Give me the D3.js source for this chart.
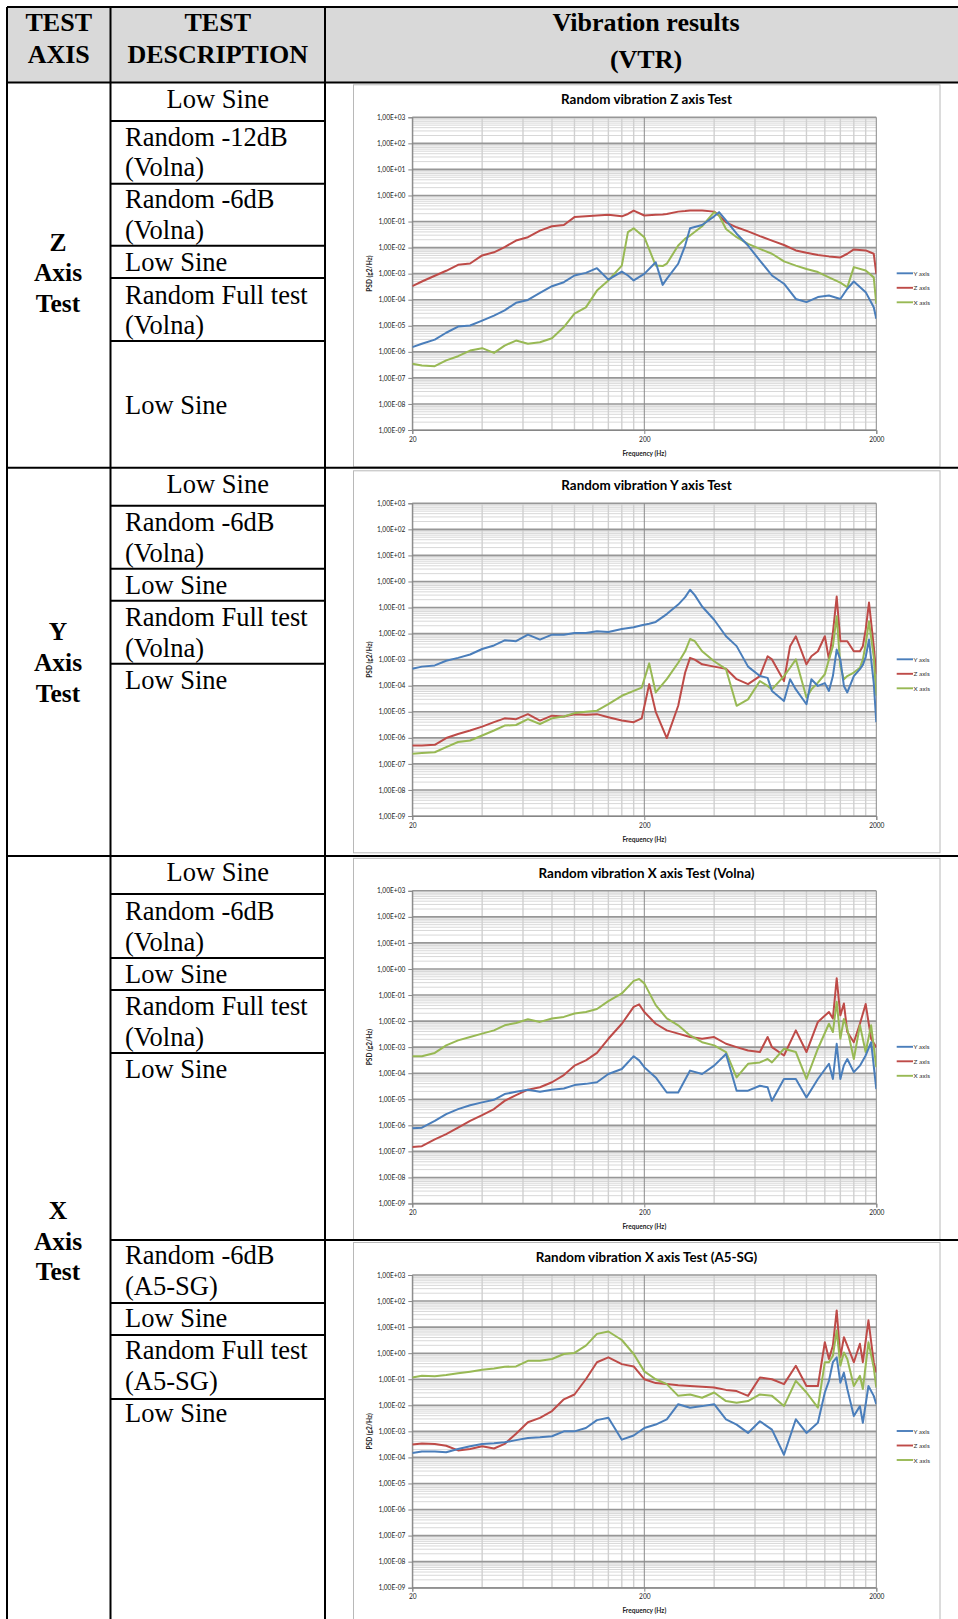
<!DOCTYPE html>
<html>
<head>
<meta charset="utf-8">
<script src="https://cdn.jsdelivr.net/npm/d3@7"></script>
<style>
  html, body { margin: 0; padding: 0; background: #fff; }
  svg { display: block; }
</style>
</head>
<body>
<svg id="page" width="958" height="1619"></svg>
<script>
// ---------- chart data: PSD (g2/Hz) against frequency (Hz) ----------
const seriesNames = ["Y axis", "Z axis", "X axis"];
const psdTickLabels = ["1,00E+03","1,00E+02","1,00E+01","1,00E+00","1,00E-01","1,00E-02",
  "1,00E-03","1,00E-04","1,00E-05","1,00E-06","1,00E-07","1,00E-08","1,00E-09"];
const psdDecades = [1e3,1e2,1e1,1e0,1e-1,1e-2,1e-3,1e-4,1e-5,1e-6,1e-7,1e-8,1e-9];
const freqTicks = [20, 200, 2000];

// Z axis test
const freqZ = [20,22,25,28,31.5,35.5,40,45,50,56,63,71,80,90,100,112,125,140,160,170,
  180,200,224,240,250,280,300,315,355,400,420,450,500,560,630,710,800,900,1000,1120,
  1250,1400,1500,1600,1800,1950,2000];
const zRunY = [1.51e-6,2.04e-6,2.95e-6,5.4e-6,9.3e-6,1.02e-5,1.58e-5,2.45e-5,3.9e-5,7.6e-5,
  9.8e-5,1.82e-4,3.3e-4,4.7e-4,8.5e-4,1.07e-3,1.62e-3,5.9e-4,1.2e-3,8.5e-4,
  5.5e-4,9.8e-4,2.75e-3,3.7e-4,6.3e-4,2.4e-3,1.2e-2,5.5e-2,7.4e-2,0.158,
  0.229,0.11,3.4e-2,1.2e-2,3.16e-3,8.5e-4,4.1e-4,1.07e-4,8.1e-5,1.26e-4,
  1.45e-4,1.07e-4,2.63e-4,5.0e-4,1.95e-4,5.1e-5,1.86e-5];
const zRunZ = [3.3e-4,5.0e-4,8.3e-4,1.29e-3,2.19e-3,2.45e-3,5.0e-3,6.6e-3,1.05e-2,1.86e-2,
  2.5e-2,4.5e-2,6.6e-2,7.4e-2,0.148,0.158,0.17,0.182,0.158,0.195,
  0.263,0.17,0.182,0.186,0.195,0.24,0.251,0.263,0.263,0.24,
  0.17,9.3e-2,6.0e-2,4.2e-2,2.75e-2,1.86e-2,1.26e-2,7.8e-3,6.3e-3,5.2e-3,
  4.6e-3,4.2e-3,5.8e-3,8.5e-3,7.8e-3,5.8e-3,9.8e-4];
const zRunX = [3.5e-7,3.0e-7,2.8e-7,4.7e-7,6.8e-7,1.12e-6,1.38e-6,9.1e-7,1.74e-6,2.7e-6,
  2.04e-6,2.34e-6,3.3e-6,8.9e-6,2.9e-5,5.1e-5,2.24e-4,5.5e-4,2.04e-3,3.9e-2,
  5.5e-2,2.5e-2,2.04e-3,1.95e-3,2.4e-3,1.2e-2,2.2e-2,2.9e-2,6.6e-2,0.229,
  0.17,5.2e-2,2.5e-2,1.38e-2,8.9e-3,5.8e-3,2.95e-3,2.04e-3,1.51e-3,1.15e-3,
  7.2e-4,4.5e-4,3.0e-4,1.78e-3,1.32e-3,7.2e-4,6.9e-5];

// Y axis test
const freqY = [20,22,25,28,31.5,35.5,40,45,50,56,63,71,80,90,100,112,125,140,160,180,
  195,210,224,250,280,300,315,330,355,400,450,500,560,630,680,710,800,850,900,1000,
  1050,1120,1200,1250,1300,1350,1400,1450,1500,1600,1700,1750,1800,1860,1950,2000];
const yRunY = [4.5e-4,5.4e-4,6.0e-4,9.1e-4,1.17e-3,1.58e-3,2.57e-3,3.5e-3,5.5e-3,5.1e-3,
  9.1e-3,5.9e-3,9.1e-3,9.1e-3,1.05e-2,1.05e-2,1.23e-2,1.15e-2,1.51e-2,1.74e-2,
  2.1e-2,2.4e-2,2.8e-2,5.6e-2,0.13,0.25,0.48,0.30,0.11,3.4e-2,
  7.9e-3,3.3e-3,5.4e-4,2.34e-4,2.0e-4,6.3e-5,2.6e-5,1.78e-4,7.2e-5,1.95e-5,
  1.78e-4,9.8e-5,1.26e-4,6.3e-5,2.34e-4,2.45e-3,1.0e-3,9.8e-5,5.5e-5,2.34e-4,
  4.3e-4,6.3e-4,1.26e-3,5.9e-3,1.26e-4,4.0e-6];
const yRunZ = [5.1e-7,5.1e-7,5.4e-7,9.8e-7,1.41e-6,1.91e-6,2.7e-6,4.0e-6,5.6e-6,5.2e-6,
  8.1e-6,4.6e-6,7.1e-6,6.6e-6,8.1e-6,7.6e-6,8.1e-6,6.2e-6,4.6e-6,4.0e-6,
  5.6e-6,1.15e-4,1.0e-5,9.8e-7,1.7e-5,3.2e-4,1.17e-3,1.0e-3,6.6e-4,5.4e-4,
  4.5e-4,1.78e-4,1.15e-4,2.34e-4,1.35e-3,1.02e-3,1.51e-4,3.3e-3,7.9e-3,6.6e-4,
  1.35e-3,2.1e-3,7.9e-3,1.02e-3,1.07e-2,0.263,5.1e-3,5.1e-3,5.1e-3,2.1e-3,
  2.1e-3,3.3e-3,1.41e-2,0.155,3.3e-3,2.75e-4];
const yRunX = [2.45e-7,2.6e-7,2.8e-7,4.4e-7,6.9e-7,7.9e-7,1.23e-6,1.91e-6,2.95e-6,3.1e-6,
  5.2e-6,3.4e-6,5.6e-6,6.6e-6,8.9e-6,1.0e-5,1.1e-5,1.95e-5,4.1e-5,6.3e-5,
  8.5e-5,7.2e-4,5.5e-5,1.78e-4,7.6e-4,2.1e-3,6.2e-3,5.1e-3,2.1e-3,8.7e-4,
  4.3e-4,1.7e-5,3.0e-5,1.51e-4,9.8e-5,7.2e-5,2.34e-4,4.9e-4,1.02e-3,3.5e-5,
  7.2e-5,1.32e-4,2.75e-4,1.02e-3,3.3e-3,4.6e-2,5.6e-4,1.78e-4,2.34e-4,3.2e-4,
  4.9e-4,1.0e-3,4.0e-3,2.95e-2,1.26e-3,4.1e-5];

// X axis test (Volna)
const freqXV = [20,22,25,28,31.5,35.5,40,45,50,56,63,71,80,90,100,112,125,140,160,180,
  190,200,224,250,280,315,355,400,450,500,560,630,680,710,800,900,1000,1120,1250,1300,
  1350,1400,1450,1500,1600,1700,1800,1900,2000];
const xvRunY = [7.8e-7,8.1e-7,1.48e-6,2.7e-6,4.2e-6,5.9e-6,7.6e-6,9.5e-6,1.58e-5,1.95e-5,
  2.34e-5,1.95e-5,2.34e-5,2.6e-5,3.5e-5,3.9e-5,4.5e-5,9.3e-5,1.45e-4,4.5e-4,
  3.1e-4,1.7e-4,6.9e-5,1.82e-5,1.82e-5,1.26e-4,9.3e-5,1.95e-4,5.5e-4,2.14e-5,
  2.14e-5,3.3e-5,2.9e-5,8.7e-6,6.0e-5,6.0e-5,1.17e-5,6.0e-5,2.3e-4,6.0e-5,
  1.35e-3,6.0e-5,2.0e-4,3.5e-4,1.1e-4,1.95e-4,4.8e-4,1.55e-3,2.45e-5];
const xvRunZ = [1.48e-7,1.58e-7,2.9e-7,4.6e-7,8.1e-7,1.48e-6,2.45e-6,4.2e-6,8.7e-6,1.45e-5,
  2.34e-5,2.9e-5,4.5e-5,8.5e-5,1.95e-4,3.1e-4,6.0e-4,2.1e-3,7.9e-3,3.5e-2,
  4.4e-2,2.24e-2,7.9e-3,4.4e-3,3.3e-3,2.45e-3,2.1e-3,2.45e-3,1.35e-3,1.0e-3,
  7.4e-4,6.5e-4,2.45e-3,1.0e-3,4.8e-4,4.4e-3,6.5e-4,9.3e-3,2.24e-2,1.26e-2,
  0.44,1.66e-2,4.7e-2,3.8e-3,1.55e-3,7.9e-3,4.5e-2,2.1e-3,1.0e-3];
const xvRunX = [4.5e-4,4.5e-4,6.0e-4,1.17e-3,1.82e-3,2.45e-3,3.3e-3,4.4e-3,6.9e-3,8.5e-3,
  1.17e-2,9.3e-3,1.26e-2,1.45e-2,1.95e-2,2.24e-2,2.9e-2,5.8e-2,0.115,0.35,
  0.41,0.28,4.1e-2,1.26e-2,6.9e-3,2.8e-3,1.55e-3,1.17e-3,6.5e-4,6.9e-5,
  2.3e-4,2.6e-4,3.5e-4,2.6e-4,8.7e-4,6.5e-4,6.0e-5,8.7e-4,7.9e-3,3.8e-3,
  5.5e-2,2.1e-3,1.2e-2,5.0e-3,3.5e-4,6.9e-3,6.5e-4,6.9e-3,1.7e-4];

// X axis test (A5-SG)
const freqXA = [20,22,25,28,31.5,35.5,40,45,50,56,63,71,80,90,100,112,125,140,160,180,
  200,224,250,280,315,355,400,450,500,560,630,710,800,900,1000,1120,1200,1250,1300,1350,
  1400,1450,1500,1600,1700,1750,1850,1950,2000];
const xaRunY = [1.48e-4,1.7e-4,1.7e-4,1.58e-4,2.1e-4,2.7e-4,3.3e-4,3.5e-4,3.8e-4,4.6e-4,
  5.6e-4,5.9e-4,6.5e-4,1.0e-3,1.0e-3,1.35e-3,2.7e-3,3.3e-3,4.8e-4,6.9e-4,
  1.35e-3,1.82e-3,2.9e-3,1.1e-2,8.1e-3,9.3e-3,1.1e-2,2.9e-3,1.82e-3,8.7e-4,
  2.45e-3,1.17e-3,1.26e-4,2.9e-3,8.7e-4,2.14e-3,3.1e-2,8.7e-2,0.45,0.69,
  7.4e-2,0.18,4.2e-2,3.9e-3,9.3e-3,2.14e-3,5.5e-2,2.3e-2,1.1e-2];
const xaRunZ = [3.1e-4,3.4e-4,3.3e-4,2.8e-4,1.86e-4,2.1e-4,2.7e-4,2.2e-4,3.3e-4,8.1e-4,
  2.24e-3,3.3e-3,6.0e-3,1.7e-2,2.6e-2,0.10,0.45,0.69,0.38,0.31,
  0.10,7.1e-2,6.5e-2,5.9e-2,5.5e-2,5.2e-2,4.8e-2,3.9e-2,3.5e-2,2.3e-2,
  0.117,0.1,6.5e-2,0.33,5.5e-2,5.5e-2,2.63,0.6,1.95,43.7,
  0.69,4.1,1.95,0.45,2.29,0.45,18.2,0.45,0.18];
const xaRunX = [0.117,0.135,0.129,0.145,0.17,0.195,0.229,0.257,0.30,0.31,
  0.51,0.51,0.60,0.93,1.02,1.95,5.5,6.8,3.2,0.93,
  0.20,0.10,6.5e-2,2.3e-2,2.6e-2,1.95e-2,3.1e-2,1.45e-2,1.26e-2,1.45e-2,
  2.6e-2,2.3e-2,9.3e-3,8.7e-2,3.1e-2,8.1e-3,0.45,0.45,0.79,7.4,
  0.33,1.07,0.6,5.5e-2,0.135,4.2e-2,2.63,0.28,4.8e-2];

// ---------- table content ----------
const headerAxis = ["TEST", "AXIS"];
const headerDesc = ["TEST", "DESCRIPTION"];
const headerResult = ["Vibration results", "(VTR)"];
const axisNames = [["Z","Axis","Test"], ["Y","Axis","Test"], ["X","Axis","Test"]];
const descLines = [
  "Low Sine", "Random -12dB", "(Volna)", "Random -6dB", "(Volna)", "Low Sine",
  "Random Full test", "(Volna)", "Low Sine",
  "Low Sine", "Random -6dB", "(Volna)", "Low Sine", "Random Full test", "(Volna)", "Low Sine",
  "Low Sine", "Random -6dB", "(Volna)", "Low Sine", "Random Full test", "(Volna)", "Low Sine",
  "Random -6dB", "(A5-SG)", "Low Sine", "Random Full test", "(A5-SG)", "Low Sine"
];

// ---------- layout ----------
const W = 958, H = 1619;
const colX = [7, 110.5, 325];
const descLineY = [99, 137.3, 167.2, 199.2, 230.2, 262.2, 295.2, 325.2, 404.7,
  484, 522.4, 553.3, 585.3, 617.3, 648.3, 680.3,
  872, 910.5, 941.5, 973.5, 1005.5, 1036.5, 1068.5,
  1255.3, 1286.3, 1318.3, 1350.3, 1381.3, 1413.3];
const descCentered = [0, 9, 16];
const axisNameY = [[242.6, 272.5, 303.5], [631.8, 662.7, 693.7], [1210, 1241, 1271.8]];
const fullRules = [7, 82.6, 467.8, 856];
const wideRules = [1240];
const descRules = [121, 183.7, 245.7, 278, 341, 505.8, 568.8, 600.8, 663.8,
  894, 958, 990, 1053, 1303, 1335, 1399];

const serif = "'Liberation Serif','Times New Roman',serif";
const sans = "Lato,'Open Sans',sans-serif";
const colors = ["#4a7ebb", "#be4b48", "#98b954"];

const svg = d3.select("#page");
svg.append("rect").attr("width", W).attr("height", H).attr("fill", "#fff");

// header band
svg.append("rect").attr("x", colX[0]).attr("y", 7).attr("width", W - colX[0]).attr("height", 82.6 - 7)
  .attr("fill", "#d9d9d9");

function headerText(lines, cx, ys) {
  lines.forEach((t, i) => {
    svg.append("text").attr("x", cx).attr("y", ys[i]).attr("text-anchor", "middle")
      .attr("dominant-baseline", "central").attr("font-family", serif)
      .attr("font-weight", "bold").attr("font-size", 26).attr("fill", "#000").text(t);
  });
}
headerText(headerAxis, (colX[0] + colX[1]) / 2, [22.7, 54.7]);
headerText(headerDesc, (colX[1] + colX[2]) / 2, [22.7, 54.7]);
headerText(headerResult, 646, [22.7, 59.9]);

// axis name column
axisNames.forEach((lines, s) => {
  lines.forEach((t, i) => {
    svg.append("text").attr("x", 58).attr("y", axisNameY[s][i]).attr("text-anchor", "middle")
      .attr("dominant-baseline", "central").attr("font-family", serif)
      .attr("font-weight", "bold").attr("font-size", 25.5).attr("fill", "#000").text(t);
  });
});

// test description column
descLines.forEach((t, i) => {
  const centered = descCentered.includes(i);
  svg.append("text")
    .attr("x", centered ? (colX[1] + colX[2]) / 2 : 125)
    .attr("y", descLineY[i])
    .attr("text-anchor", centered ? "middle" : "start")
    .attr("dominant-baseline", "central")
    .attr("font-family", serif).attr("font-size", 26.5).attr("fill", "#000").text(t);
});

// ---------- charts ----------
const charts = [
  { title: "Random vibration Z axis Test", plotTop: 117.3, freq: freqZ, runs: [zRunY, zRunZ, zRunX] },
  { title: "Random vibration Y axis Test", plotTop: 503.3, freq: freqY, runs: [yRunY, yRunZ, yRunX] },
  { title: "Random vibration X axis Test (Volna)", plotTop: 890.8, freq: freqXV, runs: [xvRunY, xvRunZ, xvRunX] },
  { title: "Random vibration X axis Test (A5-SG)", plotTop: 1275, freq: freqXA, runs: [xaRunY, xaRunZ, xaRunX] }
];

const plotLeft = 412.3, plotRight = 876.3, plotH = 312.7;
const minorFreq = [40,60,80,100,120,140,160,180,400,600,800,1000,1200,1400,1600,1800];

charts.forEach((c, ci) => {
  const top = c.plotTop, bottom = top + plotH;
  const g = svg.append("g");
  const x = d3.scaleLog().domain([20, 2000]).range([plotLeft, plotRight]);
  const y = d3.scaleLog().domain([1e-9, 1e3]).range([bottom, top]);

  // chart area
  g.append("rect").attr("x", 353.5).attr("y", top - 32.5).attr("width", 586.5).attr("height", 382)
    .attr("fill", "#fff").attr("stroke", "#b8b8b8").attr("stroke-width", 1);

  g.append("text").attr("x", 646.5).attr("y", top - 18.3).attr("text-anchor", "middle")
    .attr("dominant-baseline", "central").attr("font-family", sans).attr("font-weight", "bold")
    .attr("font-size", 13.4).attr("fill", "#000").text(c.title);

  // minor gridlines
  const minorPsd = [];
  for (let e = -9; e < 3; e++) for (let k = 2; k <= 9; k++) minorPsd.push(k * Math.pow(10, e));
  g.selectAll(".hmin").data(minorPsd).enter().append("line")
    .attr("x1", plotLeft).attr("x2", plotRight)
    .attr("y1", d => y(d)).attr("y2", d => y(d))
    .attr("stroke", "#d4d4d4").attr("stroke-width", 0.9);
  g.selectAll(".vmin").data(minorFreq).enter().append("line")
    .attr("x1", d => x(d)).attr("x2", d => x(d))
    .attr("y1", top).attr("y2", bottom)
    .attr("stroke", "#d0d0d0").attr("stroke-width", 1.4);
  // major gridlines
  g.selectAll(".hmaj").data(psdDecades).enter().append("line")
    .attr("x1", plotLeft).attr("x2", plotRight)
    .attr("y1", d => y(d)).attr("y2", d => y(d))
    .attr("stroke", "#979797").attr("stroke-width", 1.6);
  g.selectAll(".vmaj").data(freqTicks).enter().append("line")
    .attr("x1", d => x(d)).attr("x2", d => x(d))
    .attr("y1", top).attr("y2", bottom)
    .attr("stroke", "#8a8a8a").attr("stroke-width", 1);

  // axes
  const yAxis = d3.axisLeft(y).tickValues(psdDecades).tickSize(4)
    .tickFormat((d, i) => psdTickLabels[i]);
  const ya = g.append("g").attr("transform", `translate(${plotLeft},0)`).call(yAxis);
  const xAxis = d3.axisBottom(x).tickValues(freqTicks).tickSize(4).tickFormat(d3.format("d"));
  const xa = g.append("g").attr("transform", `translate(0,${bottom})`).call(xAxis);
  [ya, xa].forEach(a => {
    a.select(".domain").attr("stroke", "#868686");
    a.selectAll(".tick line").attr("stroke", "#868686");
    a.selectAll("text").attr("font-family", sans).attr("font-size", 6.6).attr("fill", "#222");
  });
  ya.selectAll(".tick text").attr("x", -7);
  xa.selectAll(".tick text").attr("y", 7);

  g.append("text").attr("x", (plotLeft + plotRight) / 2).attr("y", bottom + 22.7)
    .attr("text-anchor", "middle").attr("dominant-baseline", "central")
    .attr("font-family", sans).attr("font-weight", "bold").attr("font-size", 6.6).attr("fill", "#222")
    .text("Frequency (Hz)");
  g.append("text").attr("transform", `translate(368.5,${(top + bottom) / 2}) rotate(-90)`)
    .attr("text-anchor", "middle").attr("dominant-baseline", "central")
    .attr("font-family", sans).attr("font-weight", "bold").attr("font-size", 6.6).attr("fill", "#222")
    .text("PSD (g2/Hz)");

  // series
  const clipId = "plotclip" + ci;
  g.append("clipPath").attr("id", clipId).append("rect")
    .attr("x", plotLeft).attr("y", top).attr("width", plotRight - plotLeft).attr("height", plotH);
  const line = d3.line().x(d => x(d[0])).y(d => y(d[1]));
  // Z first, then X, then Y on top
  [1, 2, 0].forEach(si => {
    const pts = c.freq.map((f, i) => [f, c.runs[si][i]]);
    g.append("path").attr("d", line(pts)).attr("fill", "none")
      .attr("stroke", colors[si]).attr("stroke-width", 2)
      .attr("stroke-linejoin", "round").attr("clip-path", `url(#${clipId})`);
  });

  // legend
  seriesNames.forEach((n, si) => {
    const ly = top + 156 + si * 14.5;
    g.append("line").attr("x1", 896.7).attr("x2", 913).attr("y1", ly).attr("y2", ly)
      .attr("stroke", colors[si]).attr("stroke-width", 1.9);
    g.append("text").attr("x", 913.5).attr("y", ly).attr("dominant-baseline", "central")
      .attr("font-family", sans).attr("font-size", 6.4).attr("fill", "#333").text(n);
  });
});

// ---------- table rules ----------
const rules = svg.append("g").attr("stroke", "#000").attr("stroke-width", 2);
fullRules.forEach(yv => rules.append("line").attr("x1", colX[0]).attr("x2", W).attr("y1", yv).attr("y2", yv));
wideRules.forEach(yv => rules.append("line").attr("x1", colX[1]).attr("x2", W).attr("y1", yv).attr("y2", yv));
descRules.forEach(yv => rules.append("line").attr("x1", colX[1]).attr("x2", colX[2]).attr("y1", yv).attr("y2", yv));
colX.forEach(xv => rules.append("line").attr("x1", xv).attr("x2", xv).attr("y1", 7).attr("y2", H));
</script>
</body>
</html>
